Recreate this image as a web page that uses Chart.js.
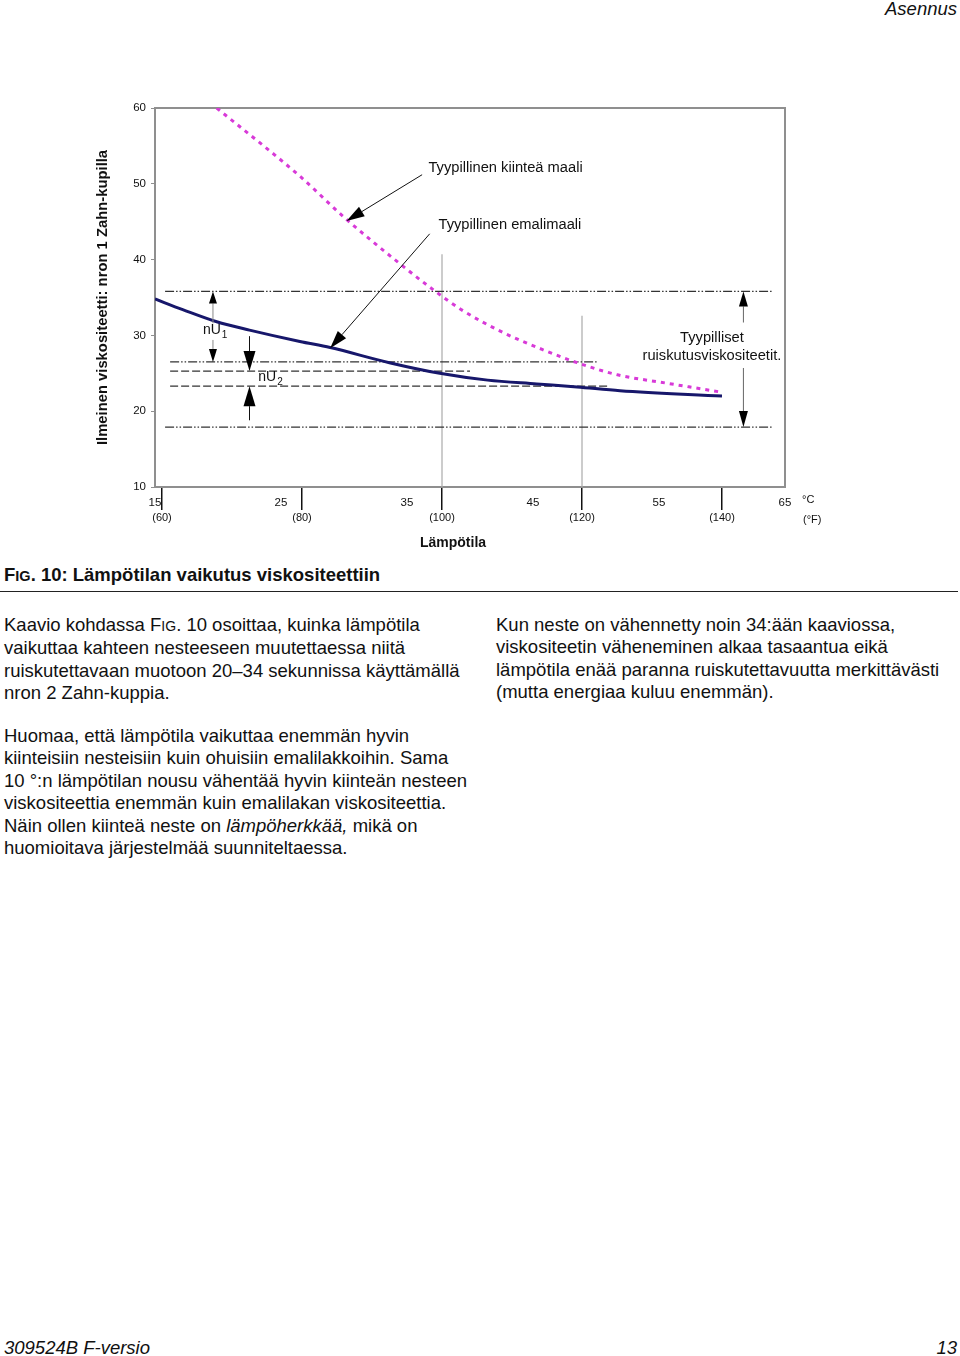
<!DOCTYPE html>
<html lang="fi">
<head>
<meta charset="utf-8">
<title>Lämpötilan vaikutus viskositeettiin</title>
<script src="https://cdn.jsdelivr.net/npm/chart.js@4.4.1/dist/chart.umd.min.js"></script>
<style>
  html, body { margin: 0; padding: 0; background: #fff; }
  body {
    width: 960px; height: 1356px; position: relative; overflow: hidden;
    font-family: "Liberation Sans", Arial, Helvetica, sans-serif; color: #111;
  }
  #chartBox { position: absolute; left: 0; top: 90px; width: 960px; height: 470px; }
  .abs { position: absolute; white-space: nowrap; }
  .hdr { top: -1px; right: 3px; font-size: 18.5px; line-height: 20px; font-style: italic; }
  .ftr { top: 1338px; font-size: 18.5px; line-height: 20px; font-style: italic; }
  .cap { left: 4px; top: 564px; font-size: 18.5px; line-height: 22px; font-weight: bold; }
  .rule { position: absolute; left: 0; top: 591px; width: 958px; height: 1px; background: #222; }
  .para { font-size: 18.5px; line-height: 22.4px; }
</style>
</head>
<body>

<div class="abs hdr">Asennus</div>

<div id="chartBox"><canvas id="viscChart" width="960" height="470"></canvas></div>

<div class="abs cap">F<span style="font-size:14.5px">IG</span>. 10: Lämpötilan vaikutus viskositeettiin</div>
<div class="rule"></div>

<div class="abs para" style="left:4px; top:614px;">
Kaavio kohdassa F<span style="font-size:14px">IG</span>. 10 osoittaa, kuinka lämpötila<br>
vaikuttaa kahteen nesteeseen muutettaessa niitä<br>
ruiskutettavaan muotoon 20–34 sekunnissa käyttämällä<br>
nron 2 Zahn-kuppia.
</div>

<div class="abs para" style="left:496px; top:614px;">
Kun neste on vähennetty noin 34:ään kaaviossa,<br>
viskositeetin väheneminen alkaa tasaantua eikä<br>
lämpötila enää paranna ruiskutettavuutta merkittävästi<br>
(mutta energiaa kuluu enemmän).
</div>

<div class="abs para" style="left:4px; top:725px;">
Huomaa, että lämpötila vaikuttaa enemmän hyvin<br>
kiinteisiin nesteisiin kuin ohuisiin emalilakkoihin. Sama<br>
10 °:n lämpötilan nousu vähentää hyvin kiinteän nesteen<br>
viskositeettia enemmän kuin emalilakan viskositeettia.<br>
Näin ollen kiinteä neste on <i>lämpöherkkää,</i> mikä on<br>
huomioitava järjestelmää suunniteltaessa.
</div>

<div class="abs ftr" style="left:4px;">309524B F-versio</div>
<div class="abs ftr" style="right:3px;">13</div>

<script>
'use strict';

// ---- data --------------------------------------------------
const celsiusTicks    = [15, 25, 35, 45, 55, 65];
const fahrenheitTicks = [60, 80, 100, 120, 140];

// typical solid paint (magenta, dotted)
const solidTemp = [19.9, 26.5, 30.2, 34.4, 37.1, 39.4, 42.6, 45.8, 48.5, 51.7, 55.6, 60.0];
const solidVisc = [60.0, 51.0, 45.3, 39.5, 36.0, 33.3, 30.4, 28.1, 26.4, 24.8, 23.7, 22.5];

// typical enamel (navy, solid)
const enamelTemp = [15.0, 17.2, 19.9, 22.5, 26.5, 28.9, 33.6, 37.6, 41.4, 45.3, 48.5, 51.9, 60.0];
const enamelVisc = [34.8, 33.4, 31.8, 30.7, 29.2, 28.4, 26.4, 25.0, 24.1, 23.6, 23.2, 22.7, 22.0];

// horizontal reference levels (viscosity) and their extent in °C
const refLevel = [35.8, 26.5, 25.3, 23.3, 17.9];
const refFrom  = [15.8, 16.2, 16.2, 16.2, 15.8];
const refTo    = [64.0, 50.2, 40.0, 50.9, 64.0];

// vertical guides at °F positions and their top (viscosity)
const guideF   = [100, 120];
const guideTop = [40.7, 32.6];

const FONT = '"Liberation Sans", Arial, Helvetica, sans-serif';
const DASH_DOT = [9, 2, 1.5, 2, 1.5, 2];
const DASHED = [8, 3];
const refDash = [DASH_DOT, DASH_DOT, DASHED, DASHED, DASH_DOT];

const pts = (xs, ys) => xs.map((x, i) => ({ x, y: ys[i] }));

// ---- annotations (in data units) ---------------------------
const arrows = [
    { from: [36.2, 51.2], to: [30.2, 45.1], head: 18, w: 11, shaft: '#111' },
    { from: [36.8, 43.4], to: [28.9, 28.3], head: 18, w: 11, shaft: '#111' },
    { from: [19.6, 31.6], to: [19.6, 35.8], head: 12, w: 8,  shaft: '#888' },
    { from: [19.6, 29.4], to: [19.6, 26.5], head: 13, w: 8,  shaft: '#888' },
    { from: [22.5, 29.9], to: [22.5, 25.3], head: 20, w: 12, shaft: '#111' },
    { from: [22.5, 18.8], to: [22.5, 23.3], head: 20, w: 12, shaft: '#111' },
    { from: [61.7, 31.7], to: [61.7, 35.8], head: 15, w: 9,  shaft: '#666' },
    { from: [61.7, 25.7], to: [61.7, 17.9], head: 16, w: 9,  shaft: '#666' },
];

const notes = [
    { text: 'Tyypillinen kiinteä maali', at: [36.7, 52.1], align: 'left' },
    { text: 'Tyypillinen emalimaali',    at: [37.5, 44.6], align: 'left' },
    { text: 'Tyypilliset',               at: [59.2, 29.7], align: 'center' },
    { text: 'ruiskutusviskositeetit.',   at: [59.2, 27.3], align: 'center' },
];

const subNotes = [
    { main: 'nU', sub: '1', at: [18.8, 30.7] },
    { main: 'nU', sub: '2', at: [23.2, 24.5] },
];

// ---- datasets ----------------------------------------------
const datasets = [
    {
        label: 'Tyypillinen kiinteä maali',
        data: pts(solidTemp, solidVisc),
        borderColor: '#d83ad8',
        borderWidth: 3,
        borderDash: [4, 5],
        cubicInterpolationMode: 'monotone',
        pointRadius: 0,
    },
    {
        label: 'Tyypillinen emalimaali',
        data: pts(enamelTemp, enamelVisc),
        borderColor: '#17176b',
        borderWidth: 3,
        cubicInterpolationMode: 'monotone',
        pointRadius: 0,
    },
];

refLevel.forEach((lv, i) => {
    datasets.push({
        data: [{ x: refFrom[i], y: lv }, { x: refTo[i], y: lv }],
        borderColor: '#333',
        borderWidth: 1.2,
        borderDash: refDash[i],
        pointRadius: 0,
    });
});

guideF.forEach((f, i) => {
    datasets.push({
        xAxisID: 'xF',
        data: [{ x: f, y: 10 }, { x: f, y: guideTop[i] }],
        borderColor: '#aaa',
        borderWidth: 1.2,
        pointRadius: 0,
    });
});

// ---- plugins -----------------------------------------------
const framePlugin = {
    id: 'frame',
    beforeDatasetsDraw(chart) {
        const { ctx, chartArea: a } = chart;
        ctx.save();
        ctx.strokeStyle = '#8f8f8f';
        ctx.lineWidth = 2;
        ctx.strokeRect(a.left, a.top, a.right - a.left, a.bottom - a.top);
        ctx.restore();
    },
};

function drawArrow(ctx, x1, y1, x2, y2, headLen, headW, shaftColor) {
    const a = Math.atan2(y2 - y1, x2 - x1);
    const bx = x2 - headLen * Math.cos(a);
    const by = y2 - headLen * Math.sin(a);
    ctx.setLineDash([]);
    ctx.strokeStyle = shaftColor;
    ctx.lineWidth = 1;
    ctx.beginPath();
    ctx.moveTo(x1, y1);
    ctx.lineTo(bx, by);
    ctx.stroke();
    ctx.fillStyle = '#000';
    ctx.beginPath();
    ctx.moveTo(x2, y2);
    ctx.lineTo(bx + headW / 2 * Math.sin(a), by - headW / 2 * Math.cos(a));
    ctx.lineTo(bx - headW / 2 * Math.sin(a), by + headW / 2 * Math.cos(a));
    ctx.closePath();
    ctx.fill();
}

const notesPlugin = {
    id: 'notes',
    afterDraw(chart) {
        const { ctx } = chart;
        const sx = chart.scales.x, sy = chart.scales.y;
        const px = v => sx.getPixelForValue(v);
        const py = v => sy.getPixelForValue(v);
        ctx.save();

        arrows.forEach(ar => {
            drawArrow(ctx, px(ar.from[0]), py(ar.from[1]), px(ar.to[0]), py(ar.to[1]), ar.head, ar.w, ar.shaft);
        });

        ctx.fillStyle = '#111';
        ctx.textBaseline = 'middle';
        ctx.font = `14.7px ${FONT}`;
        notes.forEach(n => {
            ctx.textAlign = n.align;
            ctx.fillText(n.text, px(n.at[0]), py(n.at[1]));
        });

        ctx.textAlign = 'left';
        subNotes.forEach(n => {
            const x = px(n.at[0]), y = py(n.at[1]);
            ctx.font = `14px ${FONT}`;
            ctx.fillText(n.main, x, y);
            const w = ctx.measureText(n.main).width;
            ctx.font = `10px ${FONT}`;
            ctx.fillText(n.sub, x + w + 1, y + 5);
        });

        // unit labels and x-axis title
        const a = chart.chartArea;
        ctx.font = `11px ${FONT}`;
        ctx.fillText('°C', a.right + 17, a.bottom + 13);
        ctx.fillText('(°F)', a.right + 18, a.bottom + 33);
        ctx.font = `bold 14px ${FONT}`;
        ctx.textAlign = 'center';
        ctx.fillText('Lämpötila', 453, a.bottom + 56);

        ctx.restore();
    },
};

// ---- chart -------------------------------------------------
new Chart(document.getElementById('viscChart'), {
    type: 'line',
    data: { datasets },
    options: {
        responsive: false,
        animation: false,
        layout: { padding: { left: 0, top: 18, right: 175, bottom: 23 } },
        plugins: {
            legend: { display: false },
            tooltip: { enabled: false },
        },
        scales: {
            x: {
                type: 'linear',
                position: 'bottom',
                min: 15,
                max: 65,
                afterBuildTicks: s => { s.ticks = celsiusTicks.map(v => ({ value: v })); },
                // zero-height box so the °F ticks start at the axis; keep its labels unclipped
                afterFit: s => { s.height = 0; s._computeLabelArea = () => undefined; },
                grid: { display: false },
                border: { display: true, color: '#8f8f8f', width: 2 },
                ticks: {
                    autoSkip: false,
                    maxRotation: 0,
                    padding: 1,
                    color: '#111',
                    font: { family: FONT, size: 11.5 },
                },
            },
            xF: {
                type: 'linear',
                position: 'bottom',
                min: 59,
                max: 149,
                afterBuildTicks: s => { s.ticks = fahrenheitTicks.map(v => ({ value: v })); },
                afterFit: s => { s.height = 50; },
                grid: {
                    display: true,
                    drawOnChartArea: false,
                    drawTicks: true,
                    tickLength: 23,
                    color: '#111',
                    lineWidth: 1.5,
                },
                border: { display: false },
                ticks: {
                    autoSkip: false,
                    maxRotation: 0,
                    padding: 1,
                    color: '#111',
                    font: { family: FONT, size: 11 },
                    callback: v => '(' + v + ')',
                },
            },
            y: {
                min: 10,
                max: 60,
                afterFit: s => { s.width = 155; },
                grid: { drawOnChartArea: false, drawTicks: true, tickLength: 4, color: '#8f8f8f' },
                border: { color: '#8f8f8f', width: 2 },
                ticks: {
                    stepSize: 10,
                    padding: 5,
                    color: '#111',
                    font: { family: FONT, size: 11.5 },
                },
                title: {
                    display: true,
                    text: 'Ilmeinen viskositeetti: nron 1 Zahn-kupilla',
                    color: '#111',
                    font: { family: FONT, size: 14.8, weight: 'bold', lineHeight: 1.2 },
                    padding: { top: 94, bottom: 0 },
                },
            },
        },
    },
    plugins: [framePlugin, notesPlugin],
});
</script>
</body>
</html>
